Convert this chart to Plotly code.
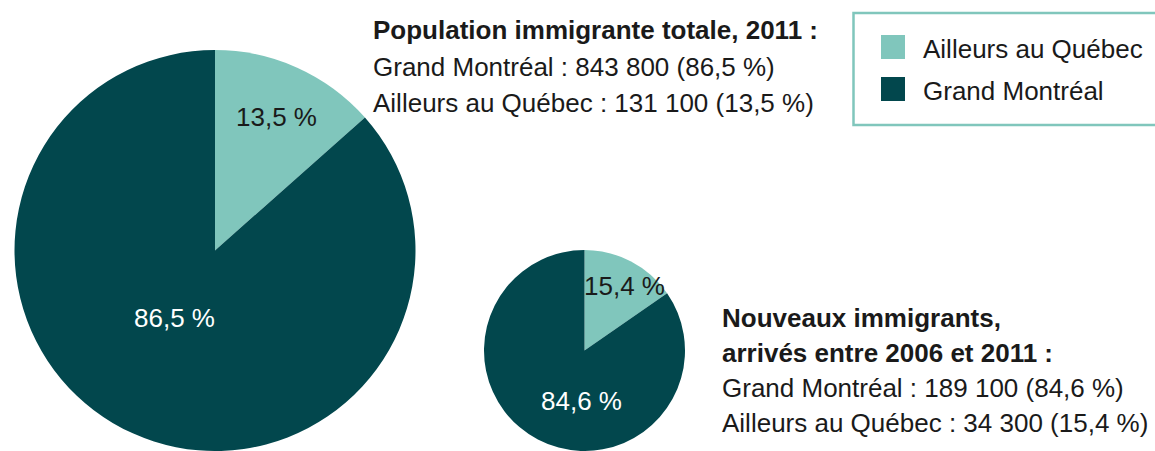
import plotly.graph_objects as go

# ---- data ----
labels = ["Ailleurs au Québec", "Grand Montréal"]
total_2011 = [131100, 843800]
total_pct = [13.5, 86.5]
new_2006_2011 = [34300, 189100]
new_pct = [15.4, 84.6]
colors = ["#80C6BC", "#02474D"]

title_total = "Population immigrante totale, 2011 :"
title_new = ["Nouveaux immigrants,", "arrivés entre 2006 et 2011 :"]

W, H = 1155, 451
FONT = "Liberation Sans, Arial, sans-serif"
TXT = "#1a1a1a"


def fr_num(n):
    return f"{n:,}".replace(",", " ")


def fr_pct(p):
    return f"{p:.1f}".replace(".", ",") + " %"


def px(x):
    return x / W


def py(y):
    return 1 - y / H


fig = go.Figure()

fig.add_trace(go.Pie(
    labels=labels, values=total_2011, sort=False, direction="clockwise",
    rotation=0, marker=dict(colors=colors, line=dict(width=0)),
    textinfo="none", showlegend=False,
    domain=dict(x=[px(14), px(416)], y=[0, py(50)]),
))
fig.add_trace(go.Pie(
    labels=labels, values=new_2006_2011, sort=False, direction="clockwise",
    rotation=0, marker=dict(colors=colors, line=dict(width=0)),
    textinfo="none", showlegend=False,
    domain=dict(x=[px(484), px(685)], y=[0, py(250)]),
))

ann = []


def add_text(x, y, text, size=26, color=TXT, xanchor="left", bold=False):
    ann.append(dict(
        x=px(x), y=py(y), xref="paper", yref="paper", xanchor=xanchor,
        yanchor="middle", showarrow=False,
        text=f"<b>{text}</b>" if bold else text,
        font=dict(family=FONT, size=size, color=color),
    ))


# pie labels
add_text(276, 117, fr_pct(total_pct[0]), xanchor="center")
add_text(174, 318, fr_pct(total_pct[1]), xanchor="center", color="white")
add_text(624, 286, fr_pct(new_pct[0]), xanchor="center")
add_text(581, 401, fr_pct(new_pct[1]), xanchor="center", color="white")

# text block 1
add_text(371, 30, title_total, bold=True)
add_text(371, 67, f"{labels[1]} : {fr_num(total_2011[1])} ({fr_pct(total_pct[1])})")
add_text(371, 102.5, f"{labels[0]} : {fr_num(total_2011[0])} ({fr_pct(total_pct[0])})")

# text block 2
add_text(720, 318, title_new[0], bold=True)
add_text(720, 353, title_new[1], bold=True)
add_text(720, 388, f"{labels[1]} : {fr_num(new_2006_2011[1])} ({fr_pct(new_pct[1])})")
add_text(720, 423, f"{labels[0]} : {fr_num(new_2006_2011[0])} ({fr_pct(new_pct[0])})")

# legend (drawn manually)
shapes = [dict(type="rect", xref="paper", yref="paper",
               x0=px(853.5), x1=px(1160), y0=py(125), y1=py(13),
               line=dict(color=colors[0], width=2.5), fillcolor="rgba(0,0,0,0)")]
for i, yc in enumerate([47, 89]):
    shapes.append(dict(type="rect", xref="paper", yref="paper",
                       x0=px(881), x1=px(905), y0=py(yc + 12), y1=py(yc - 12),
                       line=dict(width=0), fillcolor=colors[i]))
    add_text(921, yc + 2, labels[i])

fig.update_layout(
    width=W, height=H, margin=dict(l=0, r=0, t=0, b=0),
    paper_bgcolor="white", plot_bgcolor="white",
    annotations=ann, shapes=shapes, showlegend=False,
)

fig.write_html("out.html")
